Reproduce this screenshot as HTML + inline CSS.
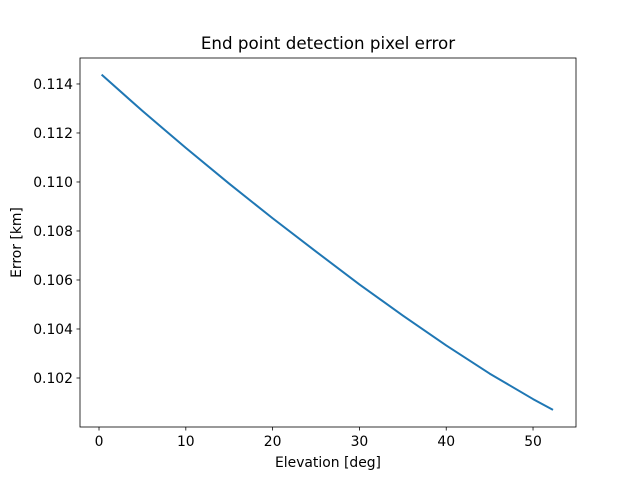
<!DOCTYPE html>
<html><head><meta charset="utf-8"><style>
body{margin:0;background:#fff;font-family:"Liberation Sans","DejaVu Sans",sans-serif;}
svg text{font-family:"DejaVu Sans","Liberation Sans",sans-serif;font-size:13.9px;fill:#000;}
</style></head><body>
<svg id="chart" width="640" height="480">
<rect width="640" height="480" fill="#fff"/>
<text x="328" y="49" text-anchor="middle" style="font-size:16.7px">End point detection pixel error</text>
<text x="328" y="467" text-anchor="middle">Elevation [deg]</text>
<text transform="translate(21,242.5) rotate(-90)" text-anchor="middle">Error [km]</text>
<g id="ticks"></g>
<path id="line" fill="none" stroke="#1f77b4" stroke-width="2" stroke-linejoin="round"/>
<rect x="80" y="58" width="496" height="369" fill="none" stroke="#000" stroke-width="0.8"/>
</svg>
<script>
const elevation=[0.3,5,10,15,20,25,30,35,40,45,50,52.3];
const errorKm=[0.11438,0.11290,0.11139,0.10993,0.10852,0.10716,0.10582,0.10455,0.10333,0.10218,0.10114,0.10070];
const xTicks=[0,10,20,30,40,50];
const yTicks=[0.102,0.104,0.106,0.108,0.110,0.112,0.114];
const X0=80,X1=576,Y0=58,Y1=427;
const xMin=-2.19,xMax=54.95,yMin=0.1000,yMax=0.11506;
function sx(v){return X0+(v-xMin)/(xMax-xMin)*(X1-X0);}
function sy(v){return Y1-(v-yMin)/(yMax-yMin)*(Y1-Y0);}
const ns="http://www.w3.org/2000/svg";
const g=document.getElementById('ticks');
xTicks.forEach(t=>{
 const l=document.createElementNS(ns,'line');
 l.setAttribute('x1',sx(t));l.setAttribute('x2',sx(t));l.setAttribute('y1',Y1);l.setAttribute('y2',Y1+3.5);
 l.setAttribute('stroke','#000');l.setAttribute('stroke-width','0.8');
 
 
 g.appendChild(l);
 const tx=document.createElementNS(ns,'text');
 tx.setAttribute('x',sx(t));tx.setAttribute('y',Y1+19);tx.setAttribute('text-anchor','middle');
 tx.textContent=t;
 
 
 g.appendChild(tx);
});
yTicks.forEach(t=>{
 const l=document.createElementNS(ns,'line');
 l.setAttribute('x1',X0-3.5);l.setAttribute('x2',X0);l.setAttribute('y1',sy(t));l.setAttribute('y2',sy(t));
 l.setAttribute('stroke','#000');l.setAttribute('stroke-width','0.8');
 
 
 g.appendChild(l);
 const tx=document.createElementNS(ns,'text');
 tx.setAttribute('x',X0-7);tx.setAttribute('y',sy(t)+5);tx.setAttribute('text-anchor','end');
 tx.textContent=t.toFixed(3);
 
 
 g.appendChild(tx);
});
document.getElementById('line').setAttribute('d',elevation.map((v,i)=>(i?'L':'M')+sx(v).toFixed(2)+','+sy(errorKm[i]).toFixed(2)).join(' '));
</script>
</body></html>
